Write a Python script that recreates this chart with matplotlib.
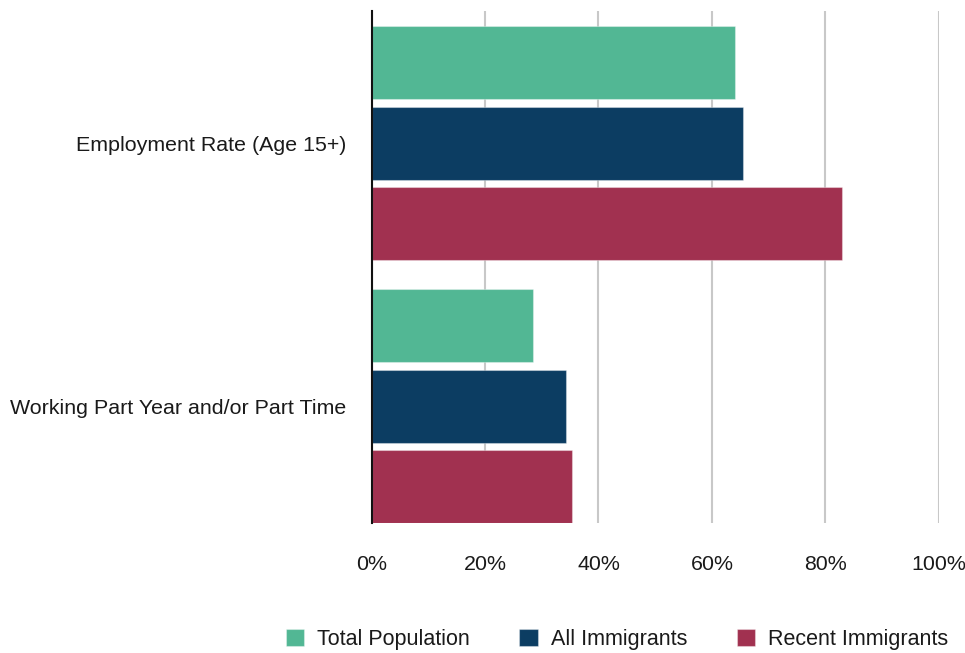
import numpy as np
import matplotlib
matplotlib.use("Agg")
import matplotlib.pyplot as plt
from matplotlib.ticker import PercentFormatter

categories = ["Employment Rate (Age 15+)", "Working Part Year and/or Part Time"]
series = ["Total Population", "All Immigrants", "Recent Immigrants"]
total_population = [64.1, 28.4]
all_immigrants = [65.5, 34.3]
recent_immigrants = [82.9, 35.3]
colors = ["#52B794", "#0C3D62", "#A13150"]

plt.rcParams["font.family"] = ["Liberation Sans", "DejaVu Sans"]

fig = plt.figure(figsize=(9.65, 6.53), dpi=100)
ax = fig.add_axes([0.385, 0.199, 0.588, 0.784])

y = np.arange(len(categories))
pitch = 0.306
height = 0.2776
values = [total_population, all_immigrants, recent_immigrants]
for i, (name, vals) in enumerate(zip(series, values)):
    ax.barh(y + (i - 1) * pitch, vals, height=height, color=colors[i],
            edgecolor=(1, 1, 1, 0.35), linewidth=0.8, label=name, zorder=3)

ax.set_xlim(0, 100)
ax.set_ylim(1.445, -0.502)
ax.set_xticks([0, 20, 40, 60, 80, 100])
ax.xaxis.set_major_formatter(PercentFormatter(decimals=0))
ax.set_yticks(y)
ax.set_yticklabels(categories)
ax.tick_params(axis="x", length=0, pad=23, labelsize=15.4, colors="#1a1a1a")
ax.tick_params(axis="y", length=0, pad=18, labelsize=15.4, colors="#1a1a1a")

ax.grid(axis="x", color="#c8c8c8", linewidth=1.5, zorder=0)
ax.set_axisbelow(True)
for s in ["top", "right", "bottom"]:
    ax.spines[s].set_visible(False)
ax.spines["left"].set_color("#111111")
ax.spines["left"].set_linewidth(1.5)
ax.spines["left"].set_zorder(4)

leg = fig.legend(loc="center left", bbox_to_anchor=(286 / 965, 0.021), ncol=3,
                 frameon=False, fontsize=15.5, handlelength=0.85, handleheight=0.85,
                 handletextpad=0.6, columnspacing=2.3, borderpad=0, borderaxespad=0)
for t in leg.get_texts():
    t.set_color("#1a1a1a")

fig.savefig("out.png", dpi=100, facecolor="white")
